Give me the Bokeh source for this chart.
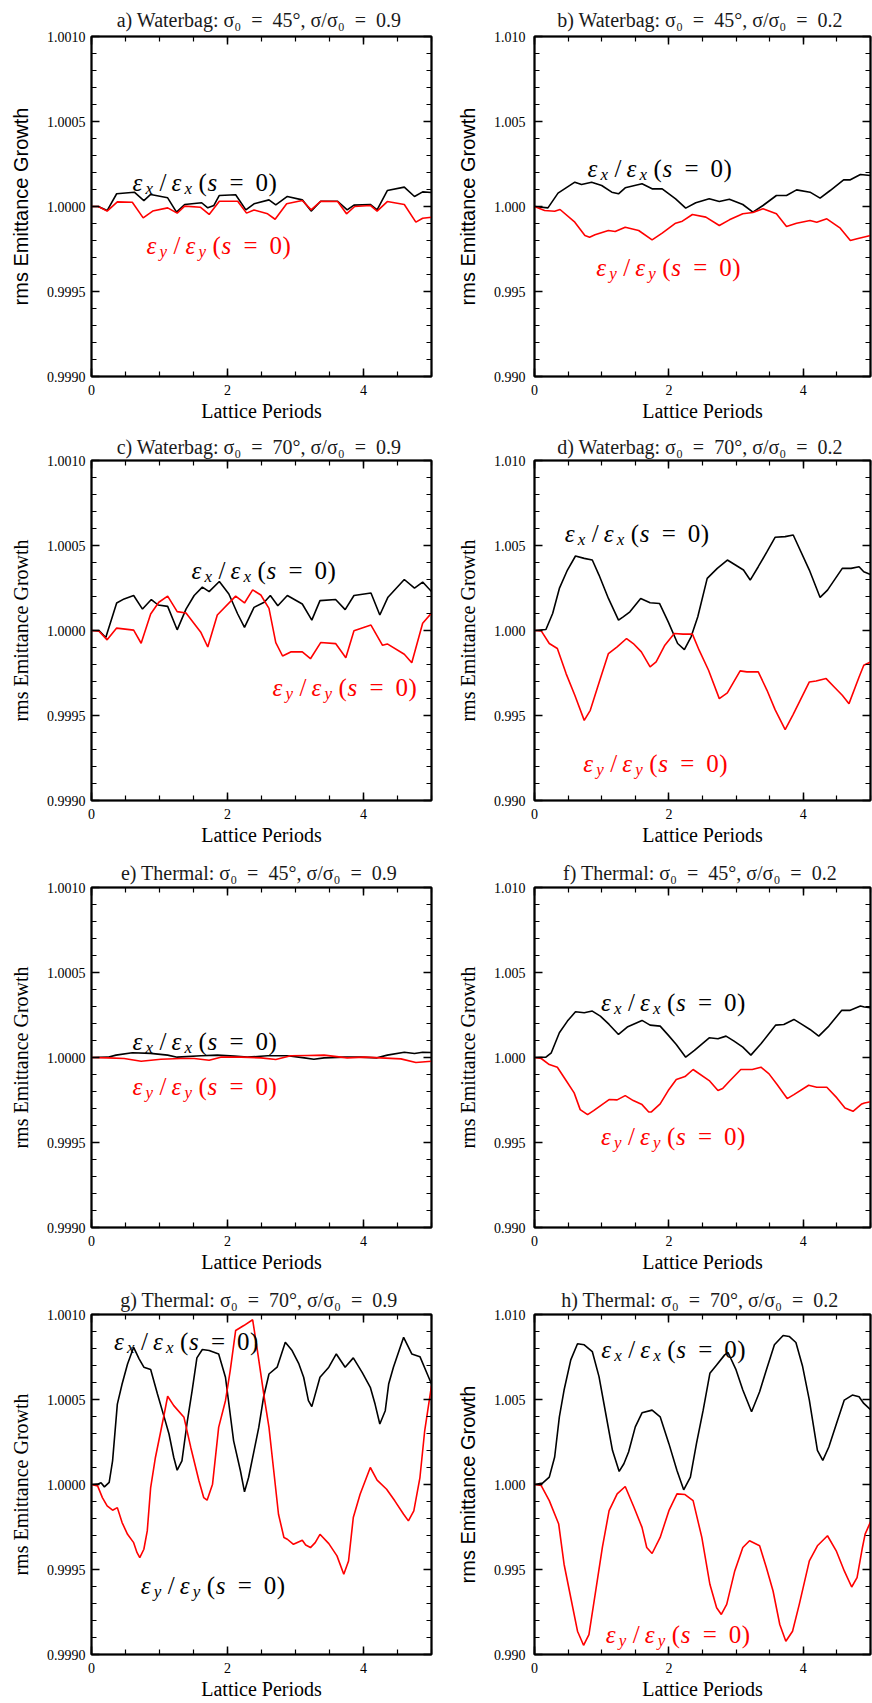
import numpy as np
from bokeh.plotting import figure
from bokeh.layouts import column, row
from bokeh.models import LinearAxis, FixedTicker, PrintfTickFormatter, Range1d, Label
from bokeh.embed import file_html
from bokeh.resources import INLINE

SERIF = "Liberation Serif"
SANS = "Liberation Sans"

# ---------------- data ----------------
a_x_ex = [0, 0.1, 0.23, 0.37, 0.63, 0.77, 0.87, 1.12, 1.25, 1.37, 1.62, 1.71, 1.8, 1.88, 2.12, 2.27, 2.39, 2.61, 2.71, 2.88, 3.1, 3.23, 3.37, 3.62, 3.76, 3.86, 4.1, 4.2, 4.35, 4.6, 4.75, 4.87, 5.0]
a_ex = [1.0, 1.0, 0.999976, 1.000075, 1.000084, 1.000035, 1.000071, 1.000051, 0.999967, 1.000012, 1.000022, 0.999992, 1.000006, 1.000065, 1.000069, 0.99998, 1.000016, 1.000039, 1.00001, 1.000059, 1.000039, 0.999973, 1.000031, 1.000031, 0.99998, 1.000008, 1.000012, 0.99998, 1.000094, 1.000114, 1.000059, 1.000086, 1.000082]
a_x_ey = [0, 0.1, 0.23, 0.38, 0.6, 0.76, 0.9, 1.12, 1.26, 1.37, 1.6, 1.73, 1.88, 2.15, 2.28, 2.39, 2.59, 2.7, 2.87, 3.1, 3.23, 3.37, 3.62, 3.75, 3.87, 4.1, 4.2, 4.35, 4.6, 4.77, 4.87, 5.0]
a_ey = [1.0, 1.0, 0.999973, 1.000027, 1.000025, 0.999933, 0.999973, 0.999992, 0.999961, 1.000002, 0.999996, 0.999953, 1.000031, 1.000031, 0.999961, 0.99998, 0.999957, 0.999925, 1.000016, 1.000035, 0.99998, 1.000031, 1.000029, 0.999957, 1.0, 1.000006, 0.999973, 1.000029, 1.000012, 0.999908, 0.999931, 0.999937]

b_x_ex = [0, 0.2, 0.35, 0.6, 0.7, 0.85, 1.0, 1.15, 1.25, 1.35, 1.6, 1.75, 1.9, 2.1, 2.25, 2.4, 2.6, 2.75, 2.9, 3.1, 3.25, 3.4, 3.6, 3.75, 3.9, 4.1, 4.25, 4.4, 4.6, 4.7, 4.85, 5.0]
b_ex = [1.0, 0.99992, 1.000784, 1.001431, 1.001294, 1.001431, 1.001235, 1.000843, 1.000745, 1.001098, 1.001333, 1.001039, 1.001039, 1.000451, 0.999902, 1.000216, 1.000451, 1.000294, 1.000431, 1.000118, 0.999667, 1.000059, 1.000647, 1.000647, 1.00098, 1.000843, 1.00049, 1.000941, 1.001569, 1.001569, 1.001882, 1.001824]
b_x_ey = [0, 0.15, 0.3, 0.38, 0.6, 0.75, 0.82, 0.9, 1.1, 1.2, 1.35, 1.55, 1.75, 1.9, 2.1, 2.2, 2.35, 2.55, 2.75, 2.9, 3.1, 3.25, 3.4, 3.6, 3.75, 3.9, 4.1, 4.2, 4.35, 4.55, 4.7, 4.8, 5.0]
b_ey = [1.0, 0.999765, 0.999725, 0.999824, 0.999078, 0.998294, 0.998196, 0.998333, 0.998588, 0.998529, 0.998784, 0.998588, 0.998039, 0.998431, 0.99902, 0.999137, 0.999529, 0.999373, 0.998882, 0.999216, 0.999569, 0.999647, 0.999863, 0.999569, 0.998824, 0.99902, 0.999176, 0.999078, 0.999275, 0.998725, 0.998, 0.998098, 0.998294]

c_x_ex = [0, 0.11, 0.21, 0.37, 0.48, 0.62, 0.75, 0.88, 0.98, 1.12, 1.26, 1.39, 1.51, 1.63, 1.73, 1.88, 2.02, 2.15, 2.25, 2.39, 2.54, 2.63, 2.74, 2.88, 3.1, 3.24, 3.36, 3.59, 3.73, 3.86, 4.11, 4.24, 4.36, 4.6, 4.75, 4.87, 5.0]
c_ex = [1.0, 1.0, 0.999959, 1.000162, 1.000186, 1.000206, 1.000126, 1.000182, 1.00015, 1.000142, 1.000004, 1.000126, 1.000206, 1.000255, 1.000229, 1.000288, 1.000215, 1.000097, 1.000018, 1.000136, 1.000166, 1.000206, 1.000146, 1.000206, 1.000156, 1.000061, 1.000176, 1.000182, 1.000123, 1.000206, 1.000221, 1.000091, 1.000196, 1.0003, 1.000249, 1.000285, 1.000229]
c_x_ey = [0, 0.11, 0.23, 0.37, 0.62, 0.73, 0.87, 0.99, 1.12, 1.26, 1.39, 1.61, 1.71, 1.85, 2.12, 2.25, 2.37, 2.49, 2.61, 2.71, 2.81, 2.93, 3.1, 3.22, 3.37, 3.59, 3.74, 3.86, 4.11, 4.28, 4.35, 4.6, 4.71, 4.87, 5.0]
c_ey = [1.0, 0.999996, 0.999945, 1.000014, 1.000002, 0.999925, 1.000097, 1.000166, 1.000202, 1.000111, 1.000103, 0.999988, 0.999903, 1.000091, 1.000202, 1.000162, 1.000239, 1.000209, 1.00013, 0.999929, 0.99985, 0.999874, 0.999874, 0.999834, 0.999929, 0.999923, 0.99984, 0.999998, 1.000032, 0.999913, 0.999921, 0.99986, 0.99981, 1.000043, 1.000103]

d_x_ex = [0, 0.17, 0.27, 0.37, 0.49, 0.61, 0.74, 0.86, 0.96, 1.1, 1.25, 1.32, 1.42, 1.58, 1.72, 1.86, 1.99, 2.13, 2.23, 2.33, 2.43, 2.57, 2.72, 2.87, 2.99, 3.11, 3.21, 3.33, 3.46, 3.58, 3.73, 3.85, 4.09, 4.25, 4.36, 4.58, 4.71, 4.83, 4.9, 5.0]
d_ex = [1.0, 1.000059, 1.001002, 1.002475, 1.003556, 1.004381, 1.004244, 1.004145, 1.003261, 1.001886, 1.000609, 1.000805, 1.0011, 1.001886, 1.001631, 1.001591, 1.000511, 0.999234, 0.99888, 0.999627, 1.000805, 1.003065, 1.003654, 1.004145, 1.003851, 1.003556, 1.002967, 1.003752, 1.004636, 1.005481, 1.005521, 1.005619, 1.003556, 1.001945, 1.002377, 1.003654, 1.003654, 1.003752, 1.003458, 1.0033]
d_x_ey = [0, 0.1, 0.22, 0.34, 0.47, 0.6, 0.74, 0.83, 0.98, 1.1, 1.23, 1.37, 1.47, 1.59, 1.72, 1.81, 1.94, 2.08, 2.21, 2.35, 2.45, 2.59, 2.75, 2.87, 3.06, 3.16, 3.33, 3.46, 3.58, 3.73, 3.85, 4.09, 4.19, 4.34, 4.46, 4.58, 4.68, 4.83, 4.9, 5.0]
d_ey = [1.0, 0.99998, 0.999234, 0.998939, 0.997466, 0.996189, 0.994715, 0.995305, 0.997171, 0.998644, 0.999037, 0.999528, 0.999234, 0.998743, 0.997859, 0.998153, 0.999136, 0.999823, 0.999784, 0.999784, 0.998841, 0.997662, 0.995992, 0.996326, 0.997623, 0.997564, 0.997564, 0.996483, 0.995344, 0.994165, 0.995069, 0.996975, 0.997033, 0.997171, 0.99668, 0.996189, 0.995698, 0.997269, 0.997957, 0.99815]

e_x_ex = [0, 0.24, 0.36, 0.6, 0.87, 1.12, 1.26, 1.61, 1.85, 2.1, 2.29, 2.59, 2.88, 3.13, 3.27, 3.42, 3.72, 3.96, 4.2, 4.35, 4.6, 4.75, 4.87, 5.0]
e_ex = [1.0, 1.000002, 1.000014, 1.000028, 1.000024, 1.000014, 1.000002, 1.00001, 1.000014, 1.000008, 1.000002, 1.00001, 1.00001, 0.999998, 0.99999, 0.999998, 1.000002, 1.000002, 0.999998, 1.000014, 1.000031, 1.000024, 1.000031, 1.000029]
e_x_ey = [0, 0.24, 0.48, 0.73, 1.02, 1.31, 1.51, 1.73, 1.9, 2.2, 2.49, 2.71, 2.93, 3.18, 3.42, 3.76, 4.01, 4.25, 4.55, 4.77, 5.0]
e_ey = [1.0, 0.999998, 0.999994, 0.999978, 0.99999, 0.999994, 0.999994, 0.999984, 1.000002, 1.000002, 0.999998, 0.999988, 1.00001, 1.000012, 1.000014, 0.999998, 1.000002, 0.999998, 0.999992, 0.999971, 0.999978]

f_x_ex = [0, 0.17, 0.25, 0.37, 0.49, 0.61, 0.74, 0.86, 0.98, 1.11, 1.25, 1.38, 1.6, 1.72, 1.87, 1.99, 2.11, 2.25, 2.38, 2.6, 2.73, 2.85, 2.97, 3.1, 3.22, 3.37, 3.59, 3.71, 3.86, 3.98, 4.1, 4.23, 4.38, 4.57, 4.69, 4.85, 4.91, 5.0]
f_ex = [1.0, 1.00002, 1.000275, 1.001454, 1.002141, 1.002692, 1.002633, 1.002731, 1.002436, 1.001945, 1.001356, 1.001788, 1.002181, 1.001906, 1.001847, 1.001316, 1.000766, 1.00002, 1.000413, 1.001159, 1.0011, 1.001257, 1.000963, 1.000609, 1.000138, 1.000805, 1.001906, 1.001945, 1.00224, 1.001945, 1.00165, 1.001257, 1.001847, 1.00277, 1.00277, 1.003025, 1.002967, 1.00293]
f_x_ey = [0, 0.1, 0.22, 0.34, 0.47, 0.59, 0.68, 0.79, 0.88, 1.11, 1.23, 1.35, 1.47, 1.6, 1.7, 1.74, 1.87, 1.99, 2.11, 2.24, 2.36, 2.6, 2.73, 2.8, 2.9, 3.07, 3.24, 3.37, 3.49, 3.61, 3.76, 3.86, 4.08, 4.2, 4.35, 4.5, 4.62, 4.74, 4.87, 4.91, 5.0]
f_ey = [1.0, 0.999941, 0.999587, 0.99943, 0.998644, 0.997918, 0.996935, 0.996641, 0.996876, 0.997525, 0.997505, 0.99776, 0.997466, 0.99723, 0.996798, 0.996798, 0.997269, 0.998055, 0.998703, 0.99888, 0.999293, 0.998644, 0.998055, 0.998173, 0.998605, 0.999293, 0.999293, 0.99943, 0.999037, 0.998409, 0.997584, 0.997819, 0.998369, 0.998251, 0.998251, 0.997623, 0.997033, 0.996837, 0.997269, 0.997328, 0.9974]

g_x_ex = [0, 0.09, 0.14, 0.19, 0.26, 0.31, 0.38, 0.45, 0.53, 0.62, 0.7, 0.77, 0.87, 0.97, 1.07, 1.14, 1.21, 1.26, 1.33, 1.41, 1.48, 1.55, 1.63, 1.73, 1.87, 1.97, 2.09, 2.19, 2.25, 2.31, 2.39, 2.46, 2.53, 2.61, 2.73, 2.85, 2.95, 3.05, 3.12, 3.19, 3.24, 3.36, 3.49, 3.6, 3.73, 3.85, 3.98, 4.1, 4.17, 4.24, 4.32, 4.37, 4.44, 4.59, 4.71, 4.83, 5.0]
g_ex = [1.0, 1.000002, 1.00001, 0.999986, 1.000012, 1.000139, 1.000473, 1.000591, 1.000709, 1.000807, 1.000739, 1.00069, 1.000676, 1.000532, 1.000395, 1.000297, 1.000159, 1.000084, 1.000139, 1.000375, 1.000552, 1.000745, 1.000794, 1.000788, 1.000768, 1.000631, 1.000257, 1.000081, 0.999957, 1.000041, 1.000198, 1.000336, 1.000513, 1.00065, 1.00069, 1.000837, 1.000788, 1.000709, 1.000631, 1.000493, 1.000458, 1.000631, 1.00069, 1.000768, 1.00069, 1.000745, 1.00066, 1.000572, 1.000473, 1.000356, 1.000434, 1.000591, 1.00069, 1.000866, 1.000768, 1.000752, 1.000591]
g_x_ey = [0, 0.09, 0.16, 0.23, 0.31, 0.38, 0.45, 0.53, 0.62, 0.67, 0.71, 0.77, 0.82, 0.87, 0.94, 1.02, 1.07, 1.12, 1.21, 1.36, 1.46, 1.58, 1.65, 1.7, 1.78, 1.87, 1.97, 2.04, 2.12, 2.24, 2.37, 2.44, 2.54, 2.61, 2.68, 2.75, 2.83, 2.88, 2.97, 3.1, 3.15, 3.22, 3.29, 3.36, 3.49, 3.61, 3.71, 3.78, 3.85, 3.95, 4.1, 4.2, 4.34, 4.46, 4.59, 4.66, 4.74, 4.83, 4.9, 5.0]
g_ey = [1.0, 0.999992, 0.999923, 0.999874, 0.999849, 0.999864, 0.999776, 0.999707, 0.999658, 0.999599, 0.99957, 0.999619, 0.999727, 0.999982, 1.000159, 1.000316, 1.000415, 1.000519, 1.000464, 1.000395, 1.000218, 1.000022, 0.999923, 0.999908, 1.000002, 1.000336, 1.000493, 1.00067, 1.000906, 1.000935, 1.000969, 1.000788, 1.000513, 1.000336, 1.000081, 0.999825, 0.999688, 0.999678, 0.999648, 0.999672, 0.999644, 0.999629, 0.999658, 0.999707, 0.999652, 0.99958, 0.999472, 0.99955, 0.999806, 0.999943, 1.0001, 1.000026, 0.999972, 0.999904, 0.999825, 0.999786, 0.999845, 1.000041, 1.000316, 1.000582]

h_x_ex = [0, 0.12, 0.22, 0.3, 0.37, 0.44, 0.54, 0.64, 0.74, 0.86, 0.96, 1.06, 1.16, 1.26, 1.33, 1.4, 1.5, 1.6, 1.75, 1.87, 2.0, 2.12, 2.22, 2.32, 2.41, 2.51, 2.61, 2.71, 2.83, 2.88, 3.0, 3.1, 3.23, 3.35, 3.45, 3.57, 3.7, 3.79, 3.89, 3.99, 4.09, 4.21, 4.29, 4.38, 4.51, 4.61, 4.73, 4.83, 4.9, 5.0]
h_ex = [1.0, 1.000079, 1.000433, 1.001616, 1.00398, 1.005557, 1.00733, 1.008276, 1.008217, 1.007822, 1.006345, 1.004177, 1.00201, 1.000768, 1.001222, 1.001911, 1.003389, 1.004217, 1.004374, 1.00398, 1.002404, 1.000828, 0.999685, 1.000433, 1.002404, 1.004374, 1.006542, 1.007034, 1.007625, 1.007763, 1.006739, 1.005557, 1.004276, 1.005458, 1.006739, 1.008217, 1.008768, 1.008709, 1.008354, 1.006936, 1.004965, 1.00201, 1.001419, 1.002207, 1.003783, 1.004965, 1.005261, 1.005162, 1.004768, 1.0044]
h_x_ey = [0, 0.1, 0.22, 0.36, 0.44, 0.54, 0.64, 0.73, 0.81, 0.91, 1.01, 1.11, 1.23, 1.35, 1.48, 1.6, 1.67, 1.75, 1.87, 2.0, 2.12, 2.24, 2.36, 2.49, 2.61, 2.71, 2.78, 2.86, 2.98, 3.1, 3.2, 3.35, 3.45, 3.55, 3.65, 3.74, 3.84, 3.94, 4.09, 4.21, 4.36, 4.49, 4.61, 4.72, 4.8, 4.88, 4.92, 5.0]
h_ey = [1.0, 0.999941, 0.999054, 0.997675, 0.99531, 0.99334, 0.99137, 0.990542, 0.991173, 0.993734, 0.996296, 0.998463, 0.999448, 0.999882, 0.99866, 0.997478, 0.996296, 0.995941, 0.996887, 0.998463, 0.999448, 0.999409, 0.999054, 0.996887, 0.994128, 0.992749, 0.992355, 0.992946, 0.994916, 0.996296, 0.99669, 0.996394, 0.995113, 0.993734, 0.991764, 0.990779, 0.99137, 0.992946, 0.995507, 0.996394, 0.996985, 0.996099, 0.994916, 0.99397, 0.994522, 0.996296, 0.997084, 0.9978]

EQ = "\u2002=\u2002"
titles = [
    f"a) Waterbag:  σ₀{EQ}45°, σ/σ₀{EQ}0.9",
    f"b) Waterbag:  σ₀{EQ}45°, σ/σ₀{EQ}0.2",
    f"c) Waterbag:  σ₀{EQ}70°, σ/σ₀{EQ}0.9",
    f"d) Waterbag:  σ₀{EQ}70°, σ/σ₀{EQ}0.2",
    f"e) Thermal:  σ₀{EQ}45°, σ/σ₀{EQ}0.9",
    f"f) Thermal:  σ₀{EQ}45°, σ/σ₀{EQ}0.2",
    f"g) Thermal:  σ₀{EQ}70°, σ/σ₀{EQ}0.9",
    f"h) Thermal:  σ₀{EQ}70°, σ/σ₀{EQ}0.2",
]

x_ticks = [0, 2, 4]
x_tick_labels = ["0", "2", "4"]
y_ticks_fine = [0.999, 0.9995, 1.0, 1.0005, 1.001]
y_ticks_coarse = [0.99, 0.995, 1.0, 1.005, 1.01]

# annotation anchors (x, baseline y) for the two curve labels of each panel
lab_ex = [(0.603, 1.000139), (0.79, 1.002216), (1.47, 1.000354), (0.45, 1.005717),
          (0.603, 1.000092), (0.99, 1.003222), (0.33, 1.000843), (0.995, 1.007921)]
lab_ey = [(0.809, 0.999771), (0.92, 0.996431), (2.66, 0.999662), (0.725, 0.992161),
          (0.603, 0.999831), (0.99, 0.995364), (0.724, 0.999403), (1.06, 0.991173)]
lab_ey_color = ["red", "red", "red", "red", "red", "red", "black", "red"]
ylabel_font = [SANS, SANS, SERIF, SERIF, SERIF, SERIF, SERIF, SANS]

series = [
    (a_x_ex, a_ex, a_x_ey, a_ey), (b_x_ex, b_ex, b_x_ey, b_ey),
    (c_x_ex, c_ex, c_x_ey, c_ey), (d_x_ex, d_ex, d_x_ey, d_ey),
    (e_x_ex, e_ex, e_x_ey, e_ey), (f_x_ex, f_ex, f_x_ey, f_ey),
    (g_x_ex, g_ex, g_x_ey, g_ey), (h_x_ex, h_ex, h_x_ey, h_ey),
]

# layout per row: (figure height, min border top, min border bottom, title standoff)
ROWS = [(425, 36, 49, 11), (424, 35, 49, 6), (427, 38, 49, 7), (426, 38, 48, 7)]


# ---------------- helpers ----------------
def style_axis(ax):
    ax.axis_line_color = "black"
    ax.axis_line_width = 1.5
    ax.major_tick_in = 8
    ax.major_tick_out = 0
    ax.minor_tick_in = 5
    ax.minor_tick_out = 0
    ax.major_tick_line_color = "black"
    ax.major_tick_line_width = 1.5
    ax.minor_tick_line_color = "black"
    ax.minor_tick_line_width = 1.2
    ax.major_label_text_font = SERIF
    ax.major_label_text_font_size = "14px"
    ax.major_label_text_color = "black"


def mirror_axis(ticks, minor):
    ax = LinearAxis(ticker=FixedTicker(ticks=ticks, minor_ticks=minor))
    style_axis(ax)
    ax.major_label_overrides = {t: "" for t in ticks}
    ax.major_label_text_font_size = "0px"
    ax.major_label_standoff = 0
    return ax


# pieces of "eps_sub / eps_sub (s = 0)": text, x offset px, raise px, size px, style
def eps_label(p, x0, y0, sub, color):
    pieces = [("ε", 0, 0, 25, "italic"), (sub, 13, -6, 17, "italic"),
              ("/", 27, 0, 25, "normal"), ("ε", 39, 0, 25, "italic"),
              (sub, 52, -6, 17, "italic"), ("(", 66, 0, 25, "normal"),
              ("s", 75, 0, 25, "italic"), ("=", 97, 0, 25, "normal"),
              ("0", 123, 0, 25, "normal"), (")", 136, 0, 25, "normal")]
    for txt, dx, dy, fs, st in pieces:
        p.add_layout(Label(x=x0, y=y0, text=txt, x_offset=dx, y_offset=dy,
                           text_font=SERIF, text_font_size=f"{fs}px",
                           text_font_style=st, text_color=color,
                           text_align="left", text_baseline="alphabetic"))


x_minor = [round(0.5 * i, 2) for i in range(11)]
fine_minor = [round(0.999 + 0.0001 * i, 5) for i in range(21)]
coarse_minor = [round(0.99 + 0.001 * i, 4) for i in range(21)]

figs = []
for i in range(8):
    r, c = divmod(i, 2)
    left = (c == 0)
    H, BT, BB, TS = ROWS[r]
    W = 444 if left else 428
    lo, hi = (0.999, 1.001) if left else (0.99, 1.01)
    p = figure(width=W, height=H, output_backend="svg", toolbar_location=None,
               x_range=Range1d(0, 5), y_range=Range1d(lo, hi),
               min_border_left=91 if left else 90,
               min_border_right=13 if left else 2,
               min_border_top=BT, min_border_bottom=BB)
    p.grid.visible = False
    p.outline_line_color = "black"
    p.outline_line_width = 2
    p.background_fill_color = "white"
    p.border_fill_color = "white"

    p.title.text = titles[i]
    p.title.text_font = SERIF
    p.title.text_font_size = "20px"
    p.title.text_font_style = "normal"
    p.title.text_color = "#1a1a1a"
    p.title.align = "center"
    p.title.standoff = TS

    yt = y_ticks_fine if left else y_ticks_coarse
    ym = fine_minor if left else coarse_minor

    xa = p.xaxis[0]
    style_axis(xa)
    xa.ticker = FixedTicker(ticks=x_ticks, minor_ticks=x_minor)
    xa.major_label_overrides = {t: s for t, s in zip(x_ticks, x_tick_labels)}
    xa.major_label_standoff = 8
    xa.axis_label = "Lattice Periods"
    xa.axis_label_text_font = SERIF
    xa.axis_label_text_font_size = "20px"
    xa.axis_label_text_font_style = "normal"
    xa.axis_label_text_color = "black"
    xa.axis_label_standoff = 2

    ya = p.yaxis[0]
    style_axis(ya)
    ya.ticker = FixedTicker(ticks=yt, minor_ticks=ym)
    ya.formatter = PrintfTickFormatter(format="%.4f" if left else "%.3f")
    ya.major_label_standoff = 6 if left else 9
    ya.axis_label = "rms Emittance Growth"
    ya.axis_label_text_font = ylabel_font[i]
    ya.axis_label_text_font_size = "20px"
    ya.axis_label_text_font_style = "normal"
    ya.axis_label_text_color = "black"
    ya.axis_label_standoff = 12

    p.add_layout(mirror_axis(x_ticks, x_minor), "above")
    p.add_layout(mirror_axis(yt, ym), "right")

    xe, ye, xy, yy = series[i]
    p.line(xe, ye, line_color="black", line_width=1.6)
    p.line(xy, yy, line_color="red", line_width=1.6)

    eps_label(p, lab_ex[i][0], lab_ex[i][1], "x", "black")
    eps_label(p, lab_ey[i][0], lab_ey[i][1], "y", lab_ey_color[i])
    figs.append(p)

layout = column(*[row(figs[2 * k], figs[2 * k + 1]) for k in range(4)])
open("out.html", "w").write(file_html(layout, INLINE))
